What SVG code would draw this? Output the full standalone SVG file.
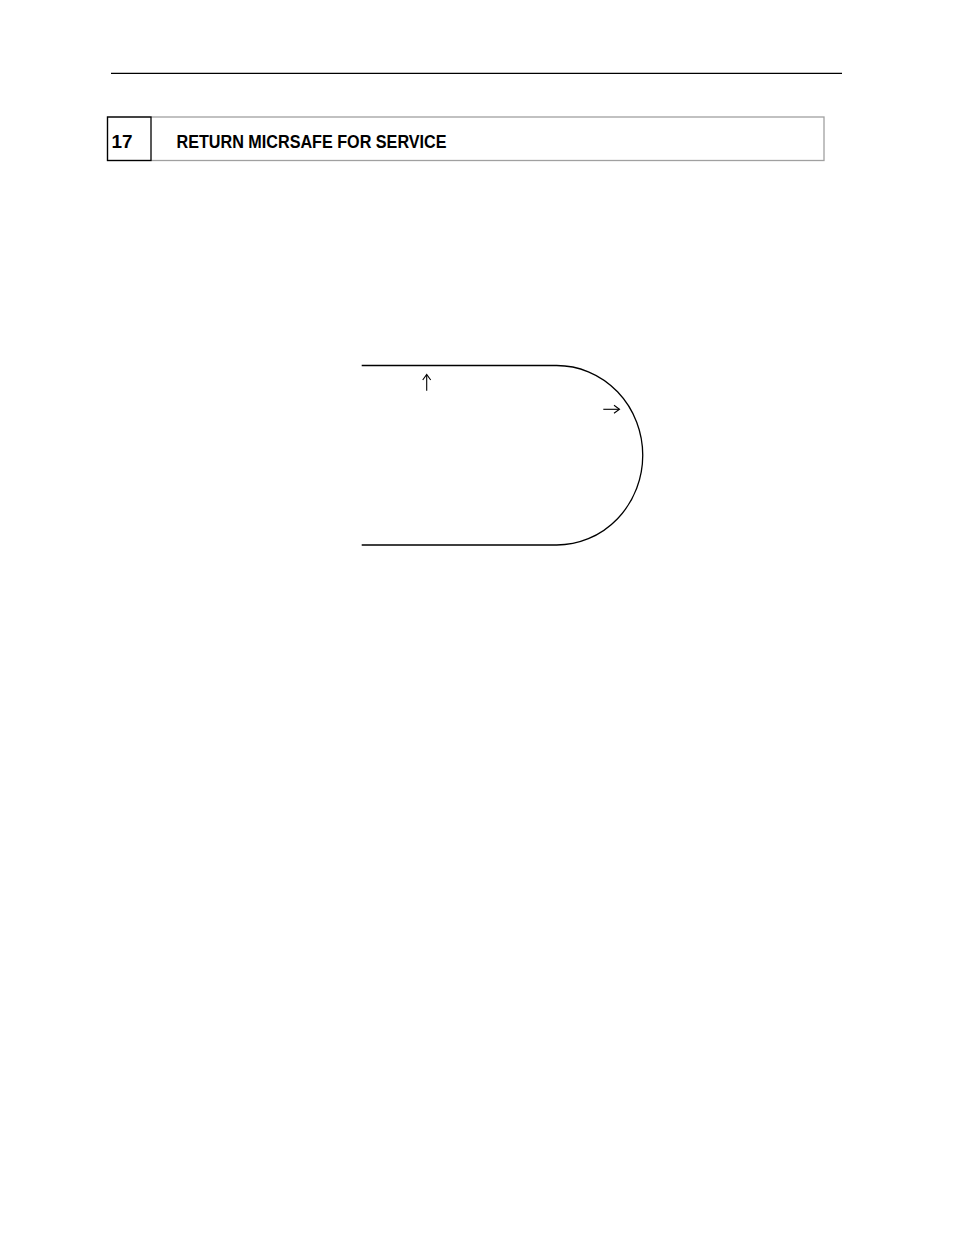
<svg xmlns="http://www.w3.org/2000/svg" width="954" height="1235" viewBox="0 0 954 1235">
<style>
.t{font-family:"Liberation Sans",Arial,sans-serif;font-weight:bold;fill:#000}
.ln{stroke:#000;fill:none;stroke-width:1.3}
.ar{stroke:#000;fill:none;stroke-width:1.1}
</style>
<rect width="954" height="1235" fill="#fff"/>
<g id="header">
<line x1="111" y1="73.3" x2="842" y2="73.3" stroke="#000" stroke-width="1.3"/>
<rect x="107.5" y="117" width="716.5" height="43.5" fill="none" stroke="#a0a0a0" stroke-width="1.3"/>
<rect x="107.5" y="117" width="43.5" height="43.5" fill="none" stroke="#000" stroke-width="1.3"/>
<text class="t" x="111.5" y="148" font-size="17.5" textLength="21" lengthAdjust="spacingAndGlyphs">17</text>
<text class="t" x="176.5" y="148" font-size="17.5" textLength="270" lengthAdjust="spacingAndGlyphs">RETURN MICRSAFE FOR SERVICE</text>
</g>
<g id="connectors">
<path class="ln" d="M361.7 365.5 H556.7 A86 89.7 0 0 1 556.7 545 H361.7"/>
</g>
<g id="arrow-up">
<line class="ar" x1="426.7" y1="375" x2="426.7" y2="390.7"/>
<path class="ar" d="M422.7 380 L426.7 374.5 L430.7 380"/>
</g>
<g id="arrow-right">
<line class="ar" x1="603.3" y1="409.3" x2="619" y2="409.3"/>
<path class="ar" d="M614 405.3 L619.5 409.3 L614 413.3"/>
</g>
</svg>
